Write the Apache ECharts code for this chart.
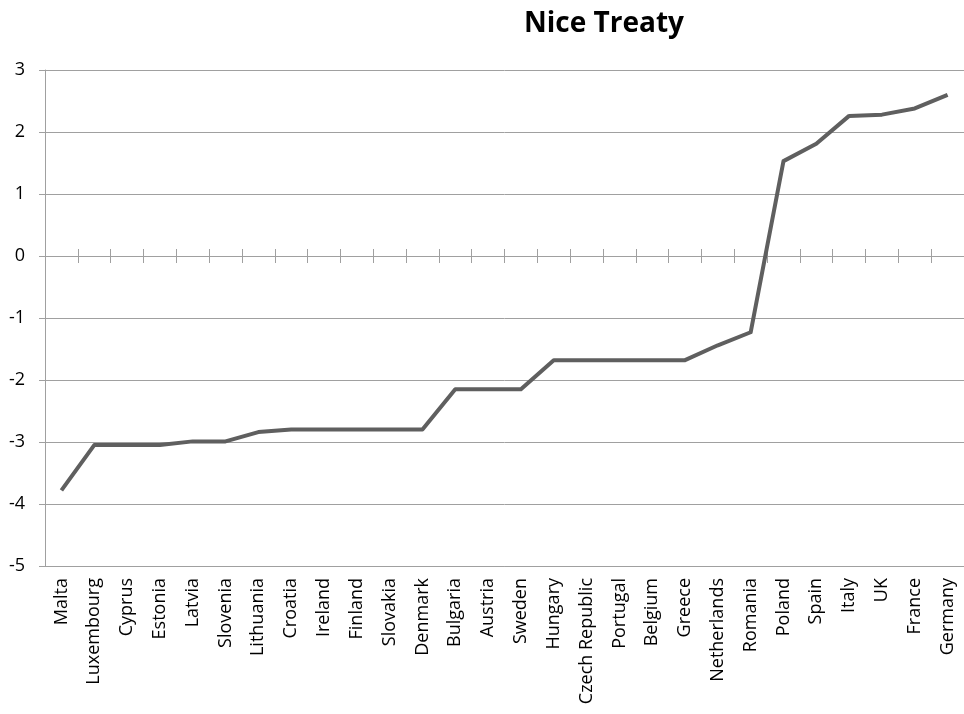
<!DOCTYPE html>
<html>
<head>
<meta charset="utf-8">
<script src="https://cdn.jsdelivr.net/npm/echarts@6/dist/echarts.min.js"></script>
<style>
  html, body { margin: 0; padding: 0; background: #fff; }
  #chart { width: 964px; height: 714px; }
</style>
</head>
<body>
<div id="chart"></div>
<script>
// Member states ordered by score
const countries = [
  'Malta', 'Luxembourg', 'Cyprus', 'Estonia', 'Latvia', 'Slovenia', 'Lithuania',
  'Croatia', 'Ireland', 'Finland', 'Slovakia', 'Denmark', 'Bulgaria', 'Austria',
  'Sweden', 'Hungary', 'Czech Republic', 'Portugal', 'Belgium', 'Greece',
  'Netherlands', 'Romania', 'Poland', 'Spain', 'Italy', 'UK', 'France', 'Germany'
];
const scores = [
  -3.78, -3.05, -3.05, -3.05, -2.99, -2.99, -2.84,
  -2.80, -2.80, -2.80, -2.80, -2.80, -2.15, -2.15,
  -2.15, -1.68, -1.68, -1.68, -1.68, -1.68,
  -1.44, -1.23, 1.53, 1.81, 2.26, 2.28, 2.38, 2.60
];
const yTicks = { min: -5, max: 3, step: 1 };

const FONT = '"Open Sans", sans-serif';
const GRID_COLOR = '#a0a0a0';
const GRID_BOX = { left: 45, right: -3, top: 70, bottom: 148, containLabel: false };

// Grids 1 and 2 overlay grid 0 and only carry the tick marks that cross the zero line
function zeroTickAxis(gridIndex, inside) {
  return {
    type: 'category',
    gridIndex,
    data: countries,
    boundaryGap: true,
    axisLine: { onZero: true, lineStyle: { color: GRID_COLOR } },
    axisTick: { show: true, inside, length: 7, interval: 0, lineStyle: { color: GRID_COLOR } },
    axisLabel: { show: false }
  };
}
function hiddenValueAxis(gridIndex) {
  return {
    type: 'value', gridIndex,
    min: yTicks.min, max: yTicks.max, interval: yTicks.step,
    show: false, splitLine: { show: false }
  };
}

const chart = echarts.init(document.getElementById('chart'));
chart.setOption({
  animation: false,
  title: {
    text: 'Nice Treaty',
    left: 519,
    top: 5,
    textStyle: { fontFamily: FONT, fontSize: 28, fontWeight: 'bold', color: '#000' }
  },
  grid: [Object.assign({}, GRID_BOX), Object.assign({}, GRID_BOX), Object.assign({}, GRID_BOX)],
  xAxis: [
    {
      // category labels along the bottom edge
      type: 'category',
      gridIndex: 0,
      data: countries,
      boundaryGap: true,
      position: 'bottom',
      axisLine: { onZero: false, show: true, lineStyle: { color: GRID_COLOR } },
      axisTick: { show: false },
      axisLabel: {
        rotate: 90, interval: 0, margin: 12,
        fontFamily: FONT, fontSize: 18, color: '#000'
      }
    },
    zeroTickAxis(1, true),
    zeroTickAxis(2, false)
  ],
  yAxis: [
    {
      type: 'value',
      gridIndex: 0,
      min: yTicks.min,
      max: yTicks.max,
      interval: yTicks.step,
      axisLine: { show: true, lineStyle: { color: GRID_COLOR } },
      axisTick: { show: true, length: 6, lineStyle: { color: GRID_COLOR } },
      splitLine: { show: true, lineStyle: { color: GRID_COLOR, width: 1 } },
      axisLabel: { margin: 20, fontFamily: FONT, fontSize: 18, color: '#000' }
    },
    hiddenValueAxis(1),
    hiddenValueAxis(2)
  ],
  series: [{
    type: 'line',
    data: scores,
    xAxisIndex: 0,
    yAxisIndex: 0,
    showSymbol: false,
    symbol: 'none',
    z: 5,
    lineStyle: { color: '#5f5f5f', width: 4, join: 'round' }
  }]
});
</script>
</body>
</html>
